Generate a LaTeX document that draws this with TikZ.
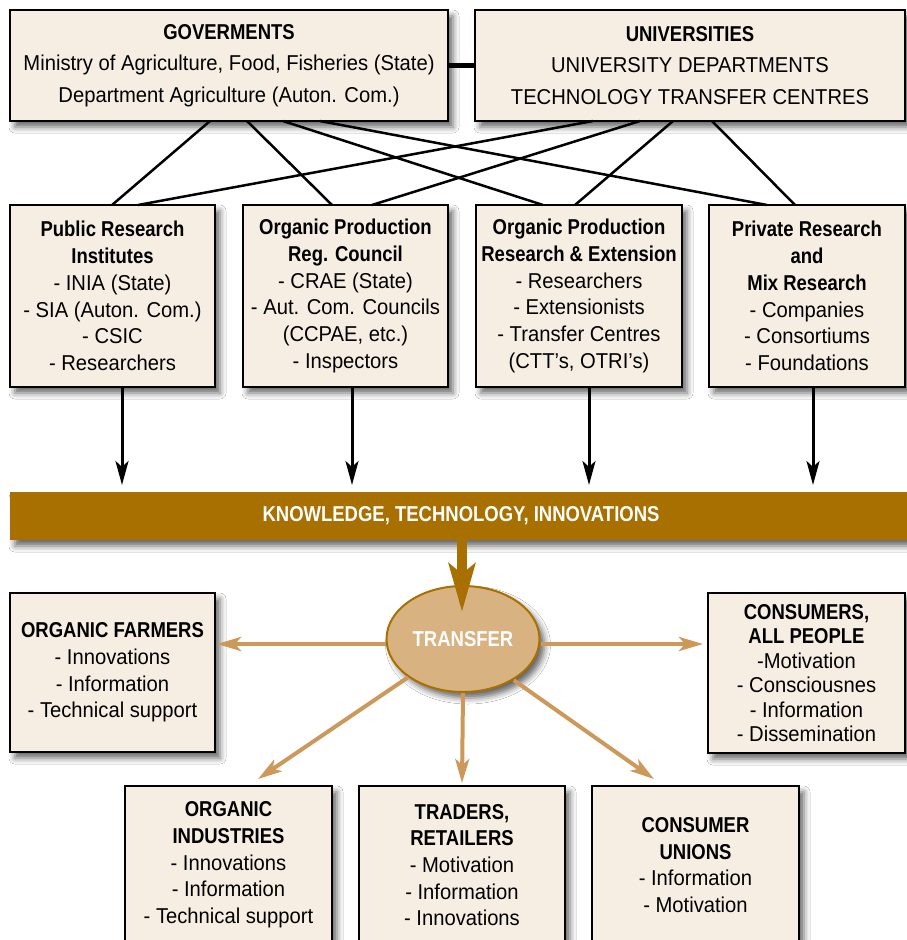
\documentclass[tikz,border=0pt]{standalone}
\usepackage{fontspec}
\setmainfont{Liberation Sans}[FakeStretch=0.94]
\newfontfamily\hdfont{Liberation Sans}[FakeStretch=0.86]
\usetikzlibrary{arrows.meta,shapes.geometric,calc,shadows.blur}
\definecolor{boxfill}{HTML}{F6EEE3}
\definecolor{bandc}{HTML}{A87000}
\definecolor{ellc}{HTML}{D8B280}
\definecolor{orgc}{HTML}{CC995A}
\newcommand\hdtxt[1]{{\hdfont\bfseries #1}}
\begin{document}
\begin{tikzpicture}[x=1pt,y=-1pt,
  shd/.style={blur shadow={shadow xshift=5pt,shadow yshift=-6pt,shadow blur radius=6pt,shadow opacity=60}},
  box/.style={draw=black,line width=2.5pt,fill=boxfill,inner sep=0pt,outer sep=0pt,align=center,
    font=\fontsize{21.5}{26.7}\selectfont,shd},
  topbox/.style={box,font=\fontsize{21.5}{31.5}\selectfont},
  link/.style={draw=black,line width=2.5pt},
  blk/.style={draw=black,line width=3pt,-{Stealth[length=24pt,width=13pt,inset=6pt]}},
  org/.style={draw=orgc,line width=4pt,-{Stealth[length=24pt,width=14pt,inset=6pt]}},
  big/.style={draw=bandc,line width=10pt,-{Stealth[length=48pt,width=26pt,inset=10pt]}}]
\useasboundingbox (0,0) rectangle (907,940);
\clip (0,0) rectangle (907,940);
\fill[white] (0,0) rectangle (907,940);

% top row
\node[topbox,minimum width=438pt,minimum height=111pt] (gov) at (229,65.5)
  {\hdtxt{GOVERMENTS}\\Ministry of Agriculture, Food, Fisheries (State)\\Department Agriculture (Auton. Com.)};
\node[topbox,minimum width=430pt,minimum height=111pt] (uni) at (690,65.5)
  {\hdtxt{UNIVERSITIES}\\UNIVERSITY DEPARTMENTS\\TECHNOLOGY TRANSFER CENTRES};
\draw[line width=4.5pt] (gov.east) -- (uni.west);

% second row
\node[box,minimum width=205pt,minimum height=182pt] (pri) at (112.5,296)
  {\hdtxt{Public Research}\\\hdtxt{Institutes}\\- INIA (State)\\- SIA (Auton. Com.)\\- CSIC\\- Researchers};
\node[box,minimum width=205pt,minimum height=182pt] (opc) at (345.5,296)
  {\hdtxt{Organic Production}\\\hdtxt{Reg. Council}\\- CRAE (State)\\- Aut. Com. Councils\\(CCPAE, etc.)\\- Inspectors};
\node[box,minimum width=206pt,minimum height=182pt] (ore) at (579,296)
  {\hdtxt{Organic Production}\\\hdtxt{Research \& Extension}\\- Researchers\\- Extensionists\\- Transfer Centres\\(CTT’s, OTRI’s)};
\node[box,minimum width=196pt,minimum height=182pt] (prv) at (807,296)
  {\hdtxt{Private Research}\\\hdtxt{and}\\\hdtxt{Mix Research}\\- Companies\\- Consortiums\\- Foundations};

% crossing links
\draw[link] ([xshift=-19pt]gov.south) -- ([xshift=-0.5pt]pri.north);
\draw[link] ([xshift=18pt]gov.south) -- ([xshift=-13.5pt]opc.north);
\draw[link] ([xshift=54pt]gov.south) -- ([xshift=-36pt]ore.north);
\draw[link] ([xshift=91pt]gov.south) -- ([xshift=-40pt]prv.north);
\draw[link] ([xshift=-97pt]uni.south) -- ([xshift=25.5pt]pri.north);
\draw[link] ([xshift=-50pt]uni.south) -- ([xshift=26.5pt]opc.north);
\draw[link] ([xshift=-17pt]uni.south) -- ([xshift=-4pt]ore.north);
\draw[link] ([xshift=22pt]uni.south) -- ([xshift=-12pt]prv.north);

% band
\node[fill=bandc,minimum width=902pt,minimum height=48pt,inner sep=0pt,outer sep=0pt,shd,
  text=white,font=\hdfont\bfseries\fontsize{21.5}{24}\selectfont] (band) at (461,516)
  {KNOWLEDGE, TECHNOLOGY, INNOVATIONS};

\draw[blk] ($(pri.south)+(9.5,0)$) -- ($(pri.south |- band.north)+(9.5,-7)$);
\draw[blk] ($(opc.south)+(6.5,0)$) -- ($(opc.south |- band.north)+(6.5,-7)$);
\draw[blk] ($(ore.south)+(10,0)$) -- ($(ore.south |- band.north)+(10,-7)$);
\draw[blk] ($(prv.south)+(6,0)$) -- ($(prv.south |- band.north)+(6,-7)$);

% transfer
\node[ellipse,draw=bandc,line width=2pt,fill=ellc,minimum width=153pt,minimum height=106pt,
  inner sep=0pt,text=white,font=\hdfont\bfseries\fontsize{21.5}{24}\selectfont,shd] (transfer) at (463,639) {TRANSFER};
\draw[big] ($(band.south)+(1,0)$) -- ($(transfer.north)+(-1,27)$);

% receivers
\node[box,minimum width=205pt,minimum height=159pt] (farm) at (112.5,672.5)
  {\hdtxt{ORGANIC FARMERS}\\- Innovations\\- Information\\- Technical support};
\node[box,minimum width=197pt,minimum height=160pt,font=\fontsize{21.5}{24.5}\selectfont] (cons) at (806.5,673)
  {\hdtxt{CONSUMERS,}\\\hdtxt{ALL PEOPLE}\\-Motivation\\- Consciousnes\\- Information\\- Dissemination};
\node[box,minimum width=207pt,minimum height=158pt] (ind) at (228.5,865)
  {\hdtxt{ORGANIC}\\\hdtxt{INDUSTRIES}\\- Innovations\\- Information\\- Technical support};
\node[box,minimum width=206pt,minimum height=158pt] (trad) at (462,865)
  {\hdtxt{TRADERS,}\\\hdtxt{RETAILERS}\\- Motivation\\- Information\\- Innovations};
\node[box,minimum width=207pt,minimum height=158pt] (cu) at (695.5,865)
  {\hdtxt{CONSUMER}\\\hdtxt{UNIONS}\\- Information\\- Motivation};

\draw[org] ($(transfer.west)+(0,5)$) -- ($(farm.north east)+(2,51)$);
\draw[org] ($(transfer.east)+(0,5)$) -- ($(cons.north west)+(-5,51)$);
\draw[org] (transfer.south west) -- ($(ind.north)+(29.5,-7)$);
\draw[org] (transfer.south) -- ($(trad.north)+(0,-3)$);
\draw[org] ($(transfer.south east)+(-4,3)$) -- ($(cu.north)+(-41.5,-7)$);
\end{tikzpicture}
\end{document}
